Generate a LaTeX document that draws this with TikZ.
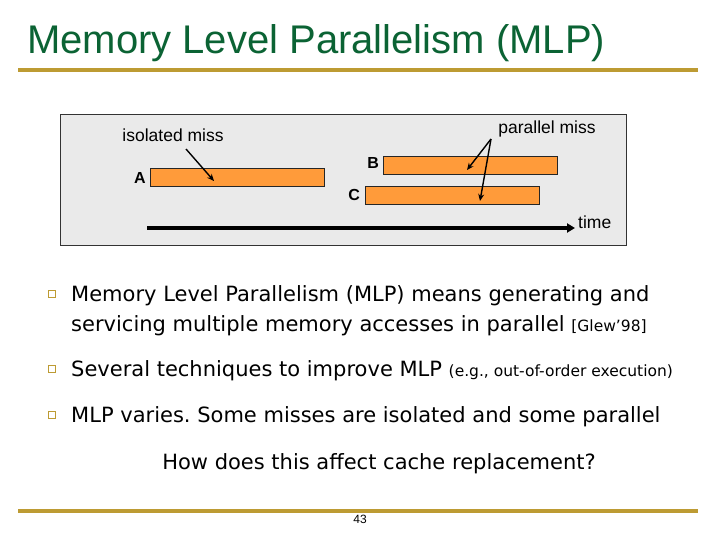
\documentclass[tikz,border=0pt]{standalone}
\usepackage{fontspec}
\setmainfont{Liberation Sans}
\newfontfamily\bodyfont{DejaVu Sans}
\usetikzlibrary{arrows.meta}
\definecolor{titlegreen}{HTML}{0B6334}
\definecolor{gold}{HTML}{BD9B33}
\definecolor{boxgray}{HTML}{EAEAEA}
\definecolor{barorange}{HTML}{FF9B3A}
\tikzset{
  bar/.style={draw=black!85, fill=barorange, line width=0.9pt, minimum width=174pt, minimum height=18pt, inner sep=0pt},
  barlabel/.style={font=\fontsize{16}{18}\selectfont\bfseries, inner sep=0pt},
  difflabel/.style={font=\fontsize{17.5}{20}\selectfont, inner sep=0pt},
  missarrow/.style={line width=1.4pt, -{Stealth[length=7pt,width=6pt]}},
  bodytext/.style={anchor=base west, inner sep=0pt, font=\bodyfont\fontsize{21}{25}\selectfont},
  bulletbox/.style={draw=gold, line width=1.1pt, minimum size=6.5pt, inner sep=0pt},
  rule/.style={gold, line width=3.5pt}
}
\frenchspacing
\begin{document}
\frenchspacing
\begin{tikzpicture}[x=1pt,y=-1pt]
\useasboundingbox (0,0) rectangle (720,540);
\fill[white] (0,0) rectangle (720,540);

% title
\node[anchor=base west, text=titlegreen, font=\fontsize{40}{44}\selectfont, inner sep=0pt] (title) at (27,54) {Memory Level Parallelism (MLP)};
\draw[rule] (18,70) -- (698,70);

% diagram box
\draw[fill=boxgray, draw=black!80, line width=0.8pt] (60,114) rectangle (626,245);

\node[bar] (A) at (237.5,177) {};
\node[bar] (B) at (470.5,165.5) {};
\node[bar] (C) at (452.5,195.5) {};
\node[barlabel, anchor=east] (Alab) at (146,178) {A};
\node[barlabel, anchor=east] (Blab) at (379,163) {B};
\node[barlabel, anchor=east] (Clab) at (360,195) {C};

\node[difflabel] (iso) at (173,135) {isolated miss};
\node[difflabel] (par) at (547,129) {parallel miss};

\coordinate (isoS) at (186,149);
\coordinate (isoE) at (214,181);
\draw[missarrow] (isoS) -- (isoE);
\coordinate (parS) at (491,139);
\coordinate (parB) at (467,170);
\coordinate (parC) at (480,201);
\draw[missarrow] (parS) -- (parB);
\draw[missarrow] (parS) -- (parC);

\coordinate (t0) at (147,228);
\node[difflabel, anchor=west] (time) at (578,222) {time};
\draw[line width=3.5pt, -{Triangle[length=8pt,width=9pt]}] (t0) -- (575,228);

% bullets
\node[bulletbox] (b1) at (52,294) {};
\node[bodytext] (l1a) at (71,301) {Memory Level Parallelism (MLP) means generating and};
\node[bodytext] (l1b) at (71,331) {servicing multiple memory accesses in parallel {\fontsize{15.5}{18}\selectfont [Glew’98]}};
\node[bulletbox] (b2) at (52,369) {};
\node[bodytext] (l2) at (71,376) {Several techniques to improve MLP {\fontsize{15.5}{18}\selectfont (e.g., out-of-order execution)}};
\node[bulletbox] (b3) at (52,415) {};
\node[bodytext] (l3) at (71,422) {MLP varies. Some misses are isolated and some parallel};

\node[anchor=base, inner sep=0pt, font=\bodyfont\fontsize{21}{25}\selectfont] (q) at (379,469) {How does this affect cache replacement?};

% footer
\draw[rule] (18,511) -- (698,511);
\node[font=\fontsize{12}{14}\selectfont, inner sep=0pt] (page) at (360,519) {43};
\end{tikzpicture}
\end{document}
